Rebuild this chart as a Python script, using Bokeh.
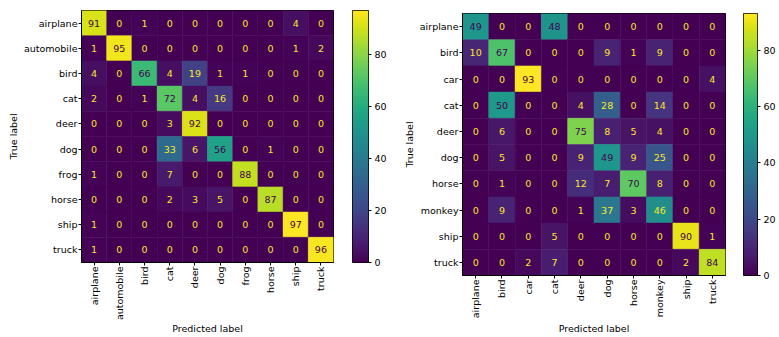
import numpy as np
from bokeh.plotting import figure
from bokeh.models import ColumnDataSource, LinearColorMapper, FixedTicker, FactorRange, Range1d
from bokeh.palettes import Viridis256
from bokeh.layouts import row
from bokeh.embed import file_html
from bokeh.resources import INLINE
from bokeh.core.properties import value

classes_left = ["airplane", "automobile", "bird", "cat", "deer", "dog", "frog", "horse", "ship", "truck"]
cm_left = [
    [91, 0, 1, 0, 0, 0, 0, 0, 4, 0],
    [1, 95, 0, 0, 0, 0, 0, 0, 1, 2],
    [4, 0, 66, 4, 19, 1, 1, 0, 0, 0],
    [2, 0, 1, 72, 4, 16, 0, 0, 0, 0],
    [0, 0, 0, 3, 92, 0, 0, 0, 0, 0],
    [0, 0, 0, 33, 6, 56, 0, 1, 0, 0],
    [1, 0, 0, 7, 0, 0, 88, 0, 0, 0],
    [0, 0, 0, 2, 3, 5, 0, 87, 0, 0],
    [1, 0, 0, 0, 0, 0, 0, 0, 97, 0],
    [1, 0, 0, 0, 0, 0, 0, 0, 0, 96],
]
classes_right = ["airplane", "bird", "car", "cat", "deer", "dog", "horse", "monkey", "ship", "truck"]
cm_right = [
    [49, 0, 0, 48, 0, 0, 0, 0, 0, 0],
    [10, 67, 0, 0, 0, 9, 1, 9, 0, 0],
    [0, 0, 93, 0, 0, 0, 0, 0, 0, 4],
    [0, 50, 0, 0, 4, 28, 0, 14, 0, 0],
    [0, 6, 0, 0, 75, 8, 5, 4, 0, 0],
    [0, 5, 0, 0, 9, 49, 9, 25, 0, 0],
    [0, 1, 0, 0, 12, 7, 70, 8, 0, 0],
    [0, 9, 0, 0, 1, 37, 3, 46, 0, 0],
    [0, 0, 0, 5, 0, 0, 0, 0, 90, 1],
    [0, 0, 2, 7, 0, 0, 0, 0, 2, 84],
]
cbar_ticks = [0, 20, 40, 60, 80]

FONT = "DejaVu Sans"
FS = "9.5px"
TXT = "black"
C_MAX = "#fde725"
C_MIN = "#440154"


def style_axis(ax):
    ax.axis_line_color = "black"
    ax.major_tick_in = 0
    ax.major_tick_out = 3
    ax.minor_tick_line_color = None
    ax.major_tick_line_color = "black"
    ax.major_label_text_font = FONT
    ax.major_label_text_font_size = FS
    ax.major_label_text_color = TXT
    ax.axis_label_text_font = FONT
    ax.axis_label_text_font_size = FS
    ax.axis_label_text_font_style = "normal"
    ax.axis_label_text_color = TXT
    ax.major_label_standoff = 1
    ax.axis_label_standoff = 2


def make_cm(classes, cm, width, height, bl, bt, br, bb, xlab_standoff):
    arr = np.array(cm)
    vmin, vmax = int(arr.min()), int(arr.max())
    thresh = (vmax + vmin) / 2.0
    xs, ys, vs, ts, tc = [], [], [], [], []
    for i, t in enumerate(classes):
        for j, pr in enumerate(classes):
            v = cm[i][j]
            xs.append(pr)
            ys.append(t)
            vs.append(v)
            ts.append(str(v))
            tc.append(C_MAX if v < thresh else C_MIN)
    src = ColumnDataSource(dict(pred=xs, true=ys, v=vs, txt=ts, tc=tc))
    p = figure(width=width, height=height, title=None,
               x_range=FactorRange(factors=classes),
               y_range=FactorRange(factors=list(reversed(classes))),
               output_backend="svg", toolbar_location=None,
               min_border_left=bl, min_border_top=bt, min_border_right=br, min_border_bottom=bb,
               x_axis_label="Predicted label", y_axis_label="True label")
    p.border_fill_color = "white"
    mapper = LinearColorMapper(palette=Viridis256, low=vmin, high=vmax)
    p.rect(x="pred", y="true", width=1, height=1, source=src,
           fill_color={"field": "v", "transform": mapper},
           line_color={"field": "v", "transform": mapper}, line_width=0.5)
    p.text(x="pred", y="true", text="txt", source=src, text_color="tc",
           text_align="center", text_baseline="middle",
           text_font=value(FONT), text_font_size=value(FS))
    p.grid.visible = False
    p.outline_line_color = "black"
    p.outline_line_alpha = 1
    style_axis(p.xaxis[0])
    style_axis(p.yaxis[0])
    p.xaxis.major_label_orientation = np.pi / 2
    p.xaxis.axis_label_standoff = xlab_standoff
    return p, mapper, vmax


def make_cbar(mapper, vmax, width, height, bt, br, bb):
    p = figure(width=width, height=height, title=None, x_range=Range1d(0, 1), y_range=Range1d(0, vmax),
               y_axis_location="right", output_backend="svg", toolbar_location=None,
               min_border_left=0, min_border_top=bt, min_border_right=br, min_border_bottom=bb)
    p.border_fill_color = "white"
    grad = np.linspace(0, vmax, 256).reshape(256, 1)
    p.image(image=[grad], x=0, y=0, dw=1, dh=vmax, color_mapper=mapper)
    p.xaxis.visible = False
    p.grid.visible = False
    p.outline_line_color = "black"
    p.outline_line_alpha = 1
    style_axis(p.yaxis[0])
    p.yaxis.ticker = FixedTicker(ticks=cbar_ticks)
    p.yaxis.major_label_standoff = 3
    p.yaxis.axis_line_color = None
    return p


h1, m1, vmax1 = make_cm(classes_left, cm_left, 352, 337, 81, 10, 19, 74, 0)
c1 = make_cbar(m1, vmax1, 37, 337, 10, 18, 74)
h2, m2, vmax2 = make_cm(classes_right, cm_right, 354, 337, 73, 13, 18, 62, 2)
c2 = make_cbar(m2, vmax2, 35, 337, 13, 16, 62)
layout = row(row(h1, c1), row(h2, c2))
open("out.html", "w").write(file_html(layout, INLINE))
